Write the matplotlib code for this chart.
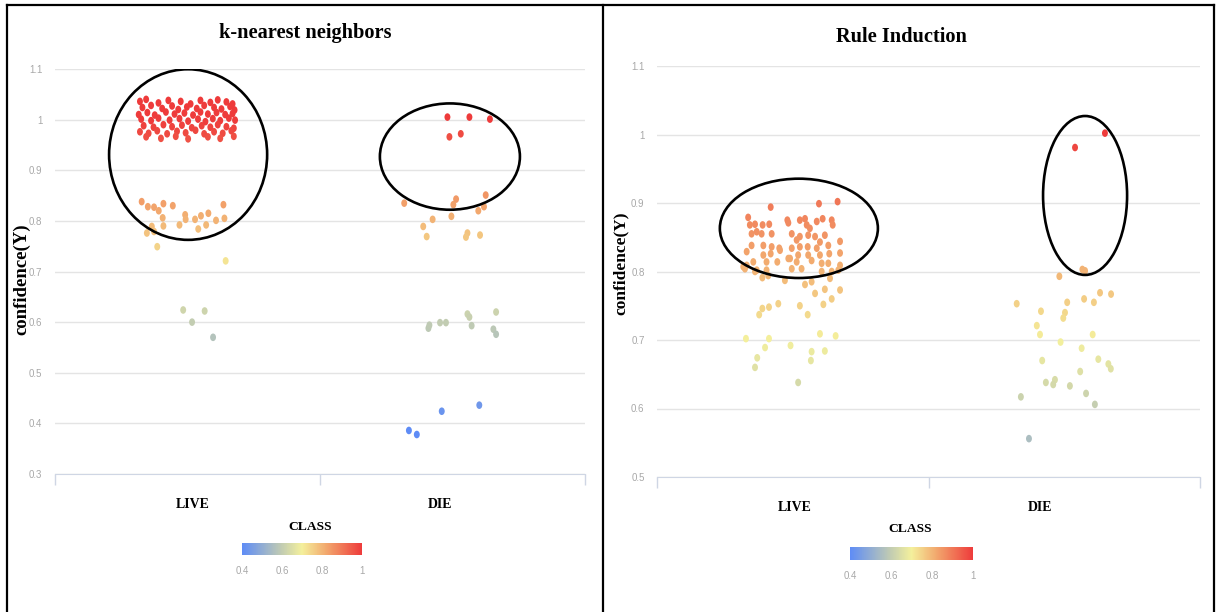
import matplotlib
matplotlib.use('Agg')
import matplotlib.pyplot as plt
from matplotlib.colors import LinearSegmentedColormap, Normalize
from matplotlib.patches import Ellipse
from matplotlib.lines import Line2D
from matplotlib.path import Path
from matplotlib.transforms import Affine2D
import matplotlib.colorbar as mcolorbar

classes = ['LIVE', 'DIE']

# k-nearest neighbors: jitter around the class position and confidence(Y)
knn_live_x = [-0.215, -0.19, -0.14, -0.10, -0.05, -0.01, 0.03, 0.07, 0.10, 0.135, 0.16,
              -0.205, -0.17, -0.125, -0.085, -0.06, -0.025, 0.015, 0.045, 0.085, 0.115, 0.15, 0.168,
              -0.22, -0.185, -0.155, -0.11, -0.075, -0.035, 0.0, 0.03, 0.06, 0.095, 0.13, 0.16,
              -0.21, -0.17, -0.14, -0.095, -0.055, -0.02, 0.02, 0.05, 0.08, 0.11, 0.145, 0.17,
              -0.2, -0.16, -0.12, -0.085, -0.045, -0.005, 0.035, 0.07, 0.1, 0.135, 0.165,
              -0.215, -0.18, -0.145, -0.105, -0.065, -0.03, 0.01, 0.045, 0.085, 0.12, 0.155,
              -0.19, -0.13, -0.07, -0.02, 0.06, 0.11, 0.165,
              -0.208, -0.183, -0.158, -0.139, -0.120, -0.082, -0.123, -0.120, -0.167, -0.158, -0.187, -0.145,
              -0.055, -0.032, -0.030, 0.008, 0.032, 0.062, 0.053, 0.093, 0.123, 0.127, 0.021, 0.132,
              -0.040, -0.004, 0.047, 0.081]
knn_live_y = [1.036, 1.040, 1.033, 1.038, 1.036, 1.031, 1.038, 1.034, 1.039, 1.035, 1.031,
              1.024, 1.028, 1.022, 1.027, 1.020, 1.025, 1.022, 1.028, 1.024, 1.021, 1.026, 1.019,
              1.010, 1.014, 1.009, 1.015, 1.011, 1.013, 1.009, 1.015, 1.011, 1.014, 1.010, 1.012,
              1.001, 0.998, 1.003, 0.999, 1.002, 0.997, 1.001, 0.996, 1.002, 0.998, 1.003, 0.999,
              0.988, 0.985, 0.990, 0.986, 0.989, 0.984, 0.988, 0.985, 0.990, 0.986, 0.983,
              0.976, 0.973, 0.978, 0.972, 0.977, 0.974, 0.979, 0.972, 0.976, 0.973, 0.978,
              0.966, 0.963, 0.967, 0.962, 0.966, 0.963, 0.967,
              0.838, 0.828, 0.827, 0.820, 0.834, 0.830, 0.806, 0.790, 0.789, 0.779, 0.776, 0.749,
              0.792, 0.812, 0.803, 0.803, 0.810, 0.815, 0.792, 0.801, 0.832, 0.805, 0.784, 0.721,
              0.624, 0.600, 0.622, 0.570]
knn_die_x = [0.030, 0.119, 0.202, 0.038, 0.084,
             -0.145, 0.065, 0.054, 0.185, 0.178, 0.155, 0.046, -0.030, -0.068, -0.054, 0.111, 0.105, 0.162,
             -0.047, -0.043, 0.0, 0.024, 0.111, 0.119, 0.128, 0.227, 0.216, 0.227,
             0.007, 0.159, -0.126, -0.094]
knn_die_y = [1.005, 1.005, 1.001, 0.966, 0.972,
             0.835, 0.843, 0.832, 0.851, 0.828, 0.820, 0.809, 0.803, 0.789, 0.769, 0.776, 0.768, 0.772,
             0.588, 0.594, 0.599, 0.599, 0.616, 0.610, 0.593, 0.620, 0.586, 0.576,
             0.424, 0.436, 0.386, 0.378]

# Rule Induction
ri_live_x = [-0.099, 0.098, 0.174,
             -0.191, -0.184, -0.163, -0.132, -0.105, -0.031, -0.027, 0.020, 0.041, 0.048, 0.089, 0.113, 0.150, 0.154, 0.061,
             -0.177, -0.156, -0.136, -0.095, -0.013, 0.020, 0.007, 0.054, 0.082, 0.102, 0.122, 0.184,
             -0.177, -0.129, -0.095, -0.064, -0.013, 0.020, 0.052, 0.089, 0.136,
             -0.197, -0.129, -0.099, -0.061, -0.020, 0.013, 0.054, 0.102, 0.140, 0.184,
             -0.197, -0.170, -0.116, -0.072, -0.027, 0.007, 0.068, 0.109, 0.136, 0.184,
             -0.204, -0.156, -0.116, -0.013, 0.027, 0.109, 0.150, 0.177,
             -0.211, -0.163, -0.133, -0.109, -0.041, 0.041, 0.068, 0.143, 0.184, 0.082,
             0.122, 0.150, 0.116, -0.068, -0.106, -0.133, -0.146, 0.020, 0.052, 0.102,
             0.166, -0.200, -0.106, -0.122, -0.018, 0.068, 0.065, 0.122, -0.154, -0.163, 0.013]
ri_live_y = [0.894, 0.899, 0.902,
             0.879, 0.868, 0.869, 0.868, 0.869, 0.875, 0.871, 0.875, 0.877, 0.868, 0.873, 0.877, 0.875, 0.868, 0.863,
             0.855, 0.858, 0.855, 0.855, 0.855, 0.851, 0.846, 0.853, 0.851, 0.843, 0.853, 0.844,
             0.838, 0.838, 0.836, 0.834, 0.834, 0.836, 0.836, 0.834, 0.838,
             0.829, 0.824, 0.826, 0.831, 0.819, 0.824, 0.824, 0.824, 0.826, 0.827,
             0.809, 0.814, 0.814, 0.814, 0.819, 0.814, 0.816, 0.812, 0.812, 0.809,
             0.804, 0.802, 0.802, 0.804, 0.804, 0.800, 0.800, 0.802,
             0.807, 0.800, 0.791, 0.794, 0.787, 0.781, 0.785, 0.790, 0.773, 0.768,
             0.774, 0.760, 0.752, 0.753, 0.748, 0.746, 0.737, 0.750, 0.737, 0.709,
             0.706, 0.702, 0.702, 0.689, 0.692, 0.683, 0.670, 0.684, 0.674, 0.660, 0.638]
ri_die_x = [0.265, 0.143,
            0.173, 0.184, 0.079, 0.245, 0.290, 0.180, 0.220, 0.111, -0.095, 0.004, 0.102, 0.095, -0.013, 0.000, 0.215,
            0.084, 0.170, 0.009, 0.238, 0.279, 0.289, 0.164, 0.024, 0.061, 0.054, 0.122, 0.188, -0.078, 0.224, -0.045]
ri_die_y = [1.002, 0.981,
            0.803, 0.801, 0.793, 0.769, 0.767, 0.760, 0.755, 0.755, 0.753, 0.742, 0.740, 0.732, 0.721, 0.708, 0.708,
            0.697, 0.688, 0.670, 0.672, 0.665, 0.658, 0.654, 0.638, 0.642, 0.635, 0.633, 0.622, 0.617, 0.606, 0.556]

cmap = LinearSegmentedColormap.from_list('cls', [(0.0, '#5e8cf6'), (0.33, '#c2ccb2'), (0.5, '#f4f09c'),
                                                 (0.7, '#f2a96e'), (1.0, '#ee3b3b')])
norm = Normalize(0.4, 1.0, clip=True)

# slightly tall oval marker
oval = Path.unit_circle().transformed(Affine2D().scale(0.78, 1.0))

serif = ['Liberation Serif', 'DejaVu Serif']
narrow = ['Liberation Sans', 'DejaVu Sans']
grey = '#a8a8a8'
base = '#cfd6e4'

fig = plt.figure(figsize=(12.17, 6.12), dpi=100)
W, H = 1217.0, 612.0


def px_axes(x0, x1, ytop, ybot):
    return fig.add_axes([x0 / W, 1 - ybot / H, (x1 - x0) / W, (ybot - ytop) / H])


def panel(ax, live_x, live_y, die_x, die_y, ylim, yticks, xlim, rings, label_pos, label_size):
    xs = [0 + v for v in live_x] + [1 + v for v in die_x]
    ys = list(live_y) + list(die_y)
    ax.scatter(xs, ys, c=ys, cmap=cmap, norm=norm, s=30, marker=oval, linewidths=0, zorder=3)
    for (cx, cy, w, h) in rings:
        ax.add_patch(Ellipse((cx, cy), w, h, fill=False, ec='black', lw=1.9, zorder=4))
    ax.set_xlim(*xlim)
    ax.set_ylim(*ylim)
    ax.set_yticks(yticks)
    ax.set_yticklabels([f'{v:g}' for v in yticks], family=narrow, fontsize=7, color=grey)
    ax.grid(axis='y', color='#e4e4e4', lw=1.0)
    ax.set_axisbelow(True)
    ax.set_xticks([0, 1])
    ax.set_xticklabels(classes, family=serif, fontsize=10, fontweight='bold')
    ax.set_xticks([xlim[0], (xlim[0] + xlim[1]) / 2, xlim[1]], minor=True)
    ax.tick_params(axis='x', which='major', length=0, pad=17)
    ax.tick_params(axis='x', which='minor', length=8, color=base, width=1)
    ax.tick_params(axis='y', length=0, pad=9)
    for s in ['top', 'right', 'left']:
        ax.spines[s].set_visible(False)
    ax.spines['bottom'].set_color(base)
    ax.set_ylabel('confidence(Y)', family=serif, fontsize=label_size, fontweight='bold')
    ax.yaxis.set_label_coords(*label_pos)


ax1 = px_axes(55, 585, 69, 474)
panel(ax1, knn_live_x, knn_live_y, knn_die_x, knn_die_y,
      (0.3, 1.1), [0.3, 0.4, 0.5, 0.6, 0.7, 0.8, 0.9, 1.0, 1.1], (-0.559, 1.587),
      [(-0.020, 0.931, 0.640, 0.337), (1.040, 0.927, 0.567, 0.210)], (-0.047, 0.48), 13.5)

ax2 = px_axes(657, 1200, 66, 477)
panel(ax2, ri_live_x, ri_live_y, ri_die_x, ri_die_y,
      (0.5, 1.1), [0.5, 0.6, 0.7, 0.8, 0.9, 1.0, 1.1], (-0.563, 1.653),
      [(0.016, 0.863, 0.645, 0.145), (1.184, 0.911, 0.343, 0.232)], (-0.052, 0.52), 12.5)

fig.text(305 / W, 1 - 33 / H, 'k-nearest neighbors', family=serif, fontsize=14.7, fontweight='bold',
         ha='center', va='center')
fig.text(901 / W, 1 - 37 / H, 'Rule Induction', family=serif, fontsize=14.7, fontweight='bold',
         ha='center', va='center')

# colour legends
for (x0, x1, ytop, ybot, tx, ty) in [(242, 362, 543, 555, 310, 527), (850, 973, 547, 560, 910, 529)]:
    cax = px_axes(x0, x1, ytop, ybot)
    cb = mcolorbar.ColorbarBase(cax, cmap=cmap, norm=norm, orientation='horizontal',
                                ticks=[0.4, 0.6, 0.8, 1.0])
    cb.outline.set_visible(False)
    cax.set_xticklabels(['0.4', '0.6', '0.8', '1'], family=narrow, fontsize=7, color=grey)
    cax.tick_params(length=0, pad=8)
    fig.text(tx / W, 1 - ty / H, 'CLASS', family=serif, fontsize=9.7, fontweight='bold',
             ha='center', va='center')

# panel frames
for (xa, ya, xb, yb) in [(7, 5, 7, 612), (603, 5, 603, 612), (1214, 5, 1214, 612), (7, 5, 1214, 5)]:
    fig.add_artist(Line2D([xa / W, xb / W], [1 - ya / H, 1 - yb / H], color='black', lw=1.6))

fig.savefig('out.png', dpi=100)
